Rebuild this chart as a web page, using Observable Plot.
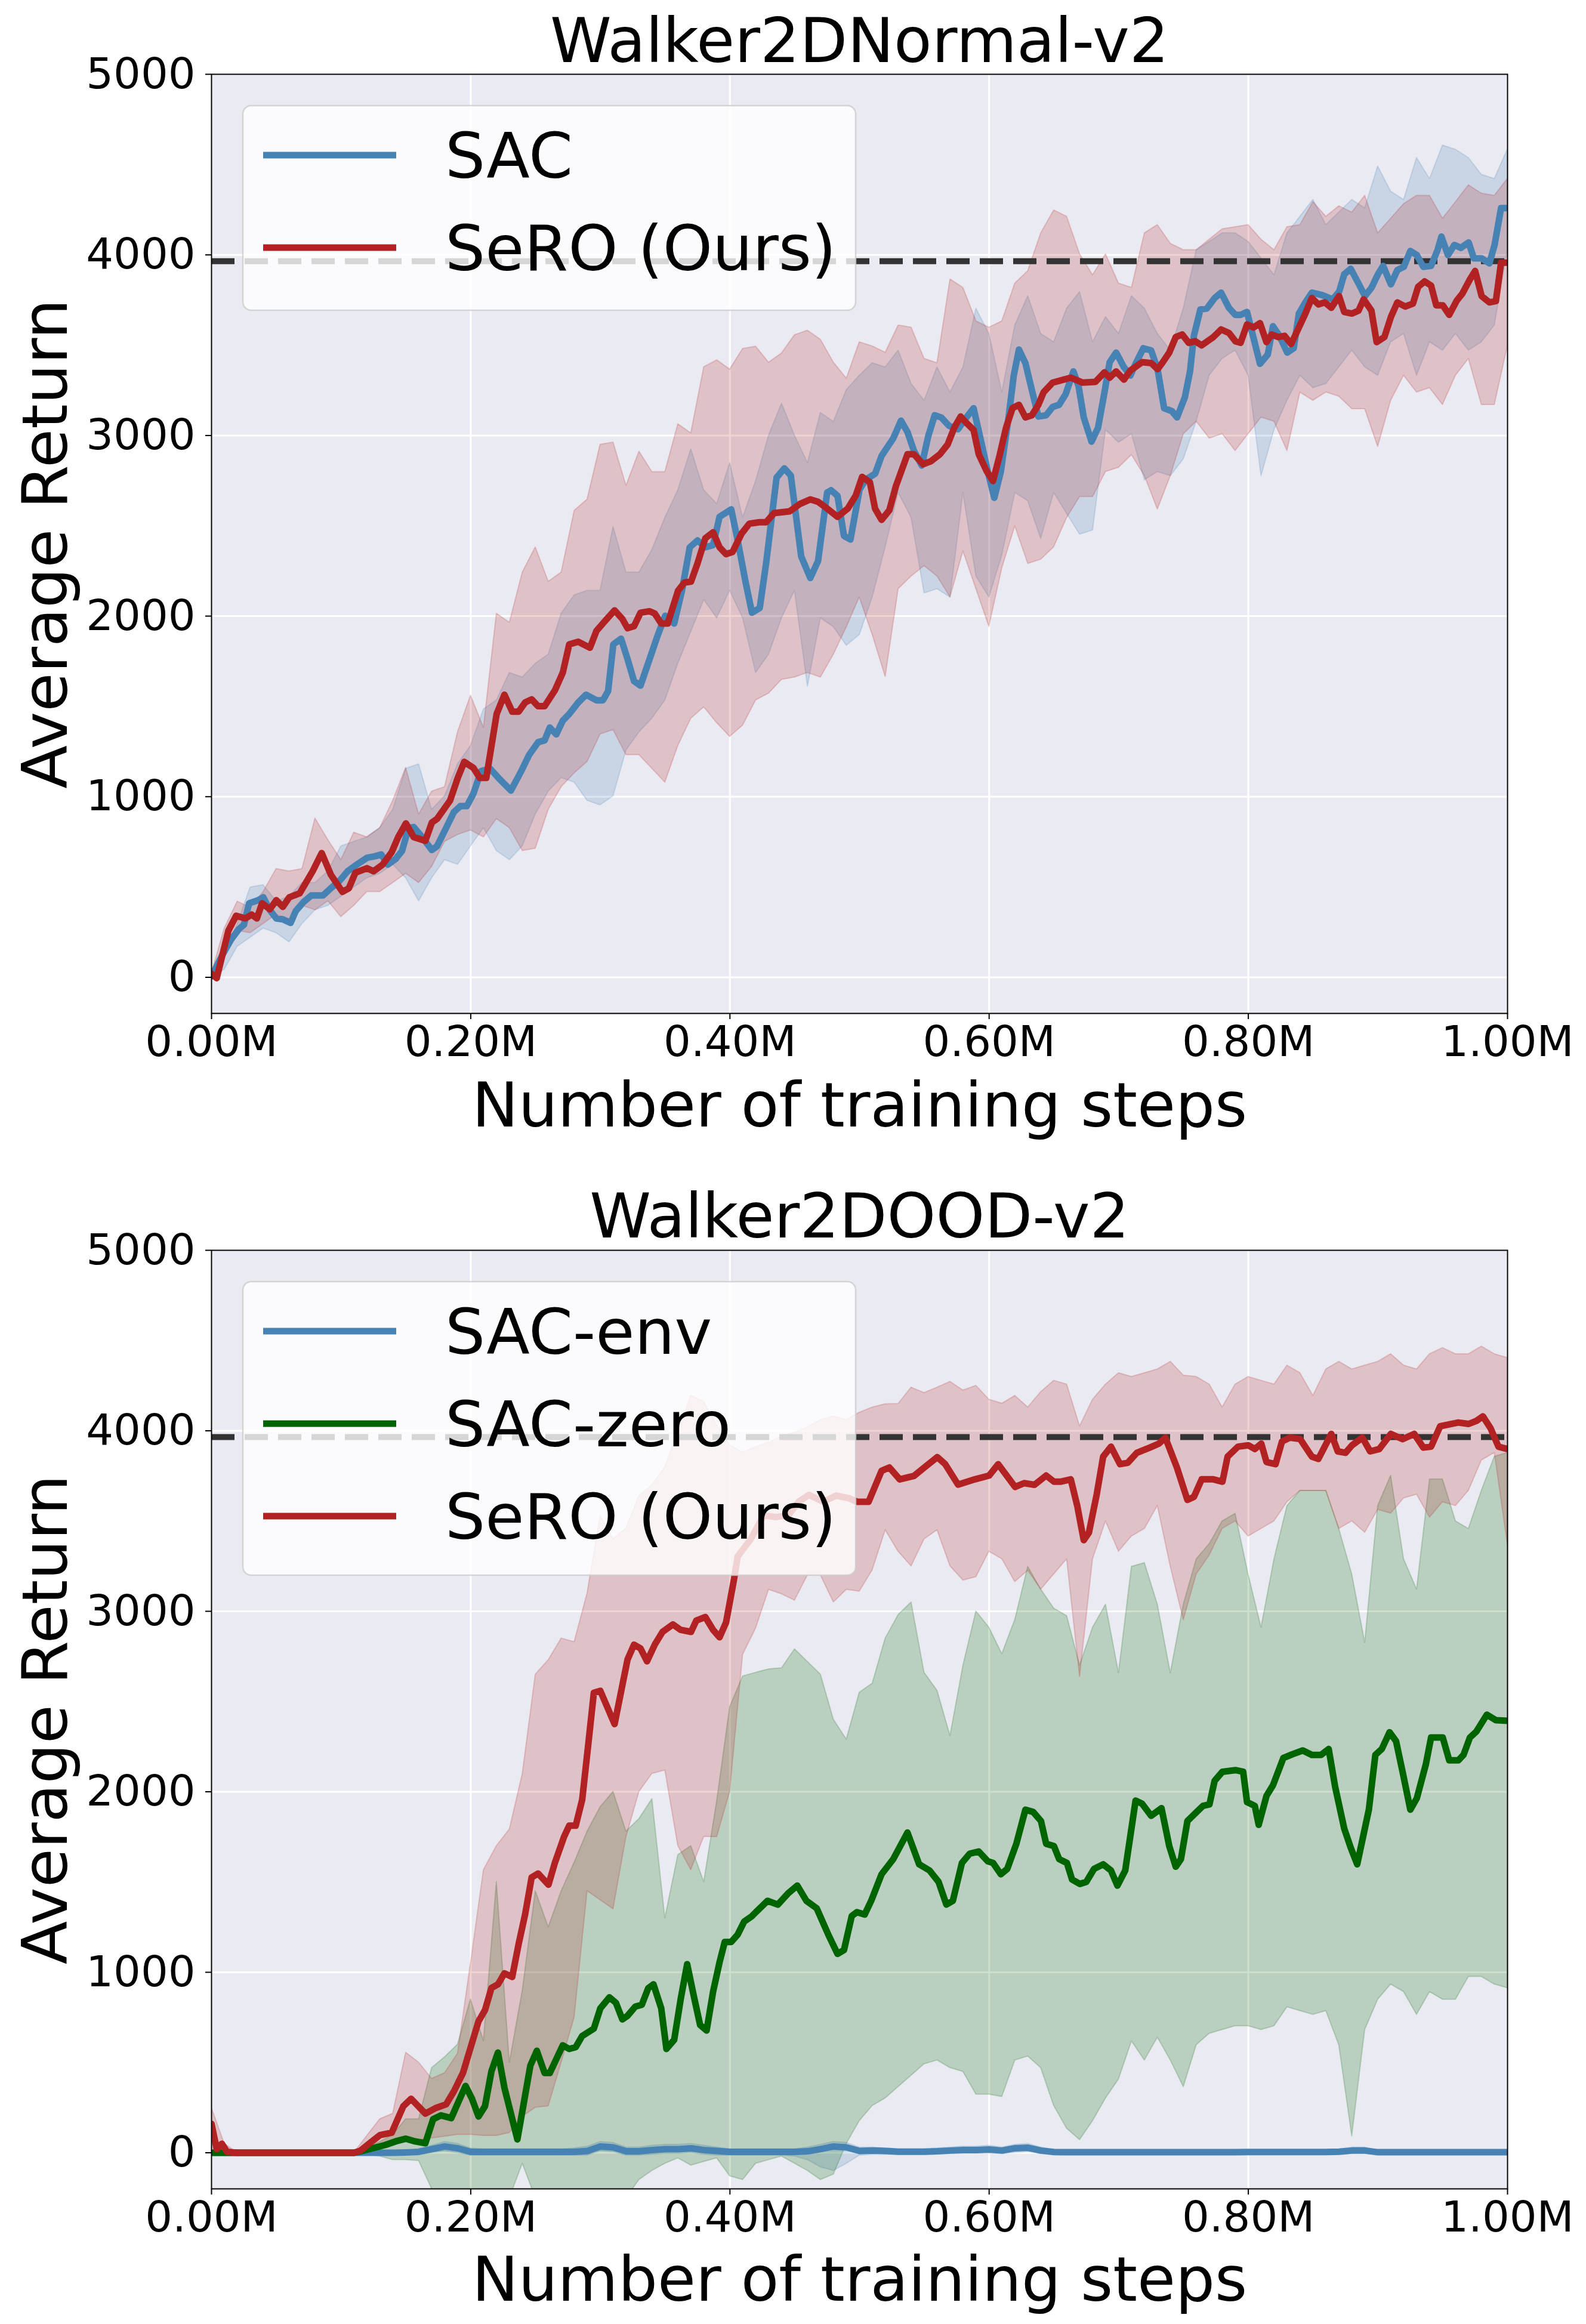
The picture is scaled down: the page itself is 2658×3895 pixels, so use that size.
<!DOCTYPE html>
<html>
<head>
<meta charset="utf-8">
<script src="https://cdn.jsdelivr.net/npm/d3@7"></script>
<script src="https://cdn.jsdelivr.net/npm/@observablehq/plot@0.6"></script>
<style>
  html, body { margin: 0; padding: 0; background: #ffffff; }
  #wrap { width: 2658px; }
  #wrap svg { display: block; }
</style>
</head>
<body>
<div id="wrap"></div>
<script>
// ---------------- DATA ----------------
const titles = ["Walker2DNormal-v2", "Walker2DOOD-v2"];
const xLabel = "Number of training steps";
const yLabel = "Average Return";
const xTicks = [0, 0.2, 0.4, 0.6, 0.8, 1.0];
const yTicks = [0, 1000, 2000, 3000, 4000, 5000];
const referenceReturn = 3965;

const topLegend = ["SAC", "SeRO (Ours)"];
const botLegend = ["SAC-env", "SAC-zero", "SeRO (Ours)"];

// shared x grid (million steps) for the shaded bands
const bandSteps = [0,0.01,0.02,0.03,0.04,0.05,0.06,0.07,0.08,0.09,0.1,0.11,0.12,0.13,0.14,0.15,0.16,0.17,0.18,0.19,0.2,0.21,0.22,0.23,0.24,0.25,0.26,0.27,0.28,0.29,0.3,0.31,0.32,0.33,0.34,0.35,0.36,0.37,0.38,0.39,0.4,0.41,0.42,0.43,0.44,0.45,0.46,0.47,0.48,0.49,0.5,0.51,0.52,0.53,0.54,0.55,0.56,0.57,0.58,0.59,0.6,0.61,0.62,0.63,0.64,0.65,0.66,0.67,0.68,0.69,0.7,0.71,0.72,0.73,0.74,0.75,0.76,0.77,0.78,0.79,0.8,0.81,0.82,0.83,0.84,0.85,0.86,0.87,0.88,0.89,0.9,0.91,0.92,0.93,0.94,0.95,0.96,0.97,0.98,0.99,1.0];

// ---- Walker2DNormal-v2 ----
const topSacSteps = [0,0.008,0.015,0.021,0.025,0.029,0.036,0.04,0.045,0.05,0.055,0.061,0.065,0.071,0.077,0.086,0.092,0.099,0.105,0.111,0.12,0.126,0.131,0.136,0.142,0.147,0.152,0.156,0.162,0.17,0.174,0.181,0.187,0.192,0.197,0.202,0.208,0.215,0.223,0.231,0.239,0.245,0.252,0.257,0.261,0.266,0.271,0.276,0.283,0.289,0.297,0.302,0.306,0.31,0.316,0.321,0.326,0.331,0.338,0.344,0.35,0.357,0.363,0.369,0.375,0.381,0.387,0.392,0.401,0.406,0.412,0.417,0.423,0.428,0.436,0.442,0.447,0.455,0.462,0.468,0.475,0.478,0.483,0.488,0.493,
  0.5,0.505,0.512,0.517,0.526,0.532,0.537,0.542,0.548,0.553,0.558,0.563,0.569,0.576,0.583,0.588,0.594,0.599,0.604,0.609,0.615,0.619,0.623,0.628,0.633,0.638,0.644,0.649,0.654,0.659,0.665,0.669,0.673,0.679,0.684,0.689,0.693,0.698,0.704,0.709,0.713,0.719,0.725,0.73,0.735,0.741,0.745,0.751,0.755,0.758,0.763,0.768,0.774,0.779,0.785,0.79,0.794,0.799,0.804,0.809,0.815,0.819,0.824,0.83,0.835,0.839,0.844,0.849,0.857,0.865,0.87,0.874,0.879,0.885,0.89,0.895,0.9,0.904,0.91,0.915,0.92,0.925,0.93,0.935,0.941,0.946,0.949,0.954,0.959,0.964,0.97,0.974,0.98,0.986,0.99,0.995,1.0];
const topSacMean = [5,119,208,266,291,410,427,443,372,326,321,301,367,417,453,453,493,536,587,619,662,670,680,624,655,700,827,832,781,705,726,827,915,948,948,1016,1142,1155,1092,1034,1142,1231,1302,1312,1383,1345,1421,1458,1522,1565,1534,1534,1585,1843,1875,1762,1640,1615,1762,1888,2002,1959,2141,2381,2419,2381,2393,2550,2591,2419,2191,2019,2045,2297,2767,2818,2778,2330,2211,2305,2684,2697,2666,2444,2424,
  2700,2757,2788,2887,2984,3082,3019,2915,2834,2996,3112,3100,3054,3035,3105,3151,2961,2799,2655,2799,3100,3332,3476,3401,3251,3105,3112,3158,3170,3228,3355,3274,3100,2966,3042,3239,3406,3459,3378,3332,3397,3483,3471,3367,3151,3135,3100,3211,3355,3552,3698,3703,3761,3791,3707,3668,3668,3684,3540,3397,3448,3605,3552,3459,3483,3675,3737,3791,3777,3754,3795,3893,3923,3842,3772,3818,3893,3939,3837,3916,3934,4022,3999,3934,3939,4027,4101,3999,4055,4039,4069,3981,3981,3953,4055,4259,4259];
const topSacHi = [0,144,296,498,511,422,447,523,523,587,726,751,776,827,928,1155,1180,928,1003,1180,1282,1484,1534,1686,1661,1737,1787,2014,2116,2141,2141,2494,2242,2242,2368,2545,2697,2924,2697,2621,2848,2545,2747,3000,3177,3000,2848,3126,3076,3252,3332,3401,3378,3471,3286,3193,3378,3239,3378,3703,3563,3239,3610,3772,3563,3517,3703,3795,3517,3656,3563,3772,3703,3563,3471,3703,4027,4073,4120,4120,4073,3981,3888,4120,4212,4305,4166,4235,4305,4259,4490,4351,4305,4537,4421,4606,4583,4537,4444,4421,4583];
const topSacLo = [0,43,170,220,271,245,195,296,372,397,447,498,549,574,624,549,422,549,650,624,726,827,700,650,726,902,1029,1104,1079,978,953,1003,1256,1357,1433,1534,1737,1913,2090,1989,2141,1989,1686,1787,1989,2141,1610,1989,1939,1837,1896,2104,2382,2683,2544,2127,2150,2104,2683,2220,2104,2336,2683,2637,2428,2683,2567,2452,2475,3031,2961,3008,2753,2799,2776,2869,3077,3332,3425,3471,3332,2776,3031,3193,3332,3263,3286,3378,3471,3378,3332,3517,3563,3332,3517,3471,3563,3471,3517,3610,4027];

const topSeroSteps = [0,0.004,0.013,0.019,0.026,0.031,0.035,0.039,0.045,0.05,0.055,0.06,0.068,0.078,0.085,0.092,0.101,0.106,0.111,0.12,0.125,0.132,0.139,0.144,0.15,0.156,0.165,0.17,0.174,0.184,0.19,0.195,0.202,0.207,0.212,0.22,0.226,0.232,0.237,0.242,0.247,0.252,0.257,0.265,0.271,0.276,0.283,0.292,0.297,0.304,0.311,0.317,0.321,0.326,0.331,0.338,0.342,0.347,0.352,0.36,0.365,0.37,0.375,0.381,0.387,0.392,0.397,0.402,0.409,0.415,0.423,0.428,0.434,0.446,0.454,0.462,0.468,0.475,0.483,0.491,0.497,
  0.502,0.508,0.512,0.517,0.523,0.528,0.537,0.542,0.549,0.555,0.562,0.568,0.573,0.578,0.583,0.588,0.592,0.598,0.603,0.608,0.613,0.618,0.623,0.628,0.633,0.638,0.642,0.649,0.663,0.672,0.682,0.689,0.693,0.698,0.704,0.709,0.718,0.725,0.73,0.734,0.739,0.744,0.749,0.754,0.759,0.764,0.773,0.779,0.785,0.79,0.794,0.799,0.804,0.809,0.814,0.818,0.823,0.828,0.833,0.839,0.844,0.849,0.854,0.859,0.864,0.87,0.874,0.88,0.885,0.889,0.895,0.899,0.905,0.91,0.915,0.921,0.927,0.931,0.936,0.941,0.945,0.95,0.955,0.961,0.965,0.971,0.975,0.98,0.986,0.991,0.995,1.0];
const topSeroMean = [20,-5,258,341,326,347,326,410,377,427,390,443,465,587,688,569,473,493,579,604,587,624,693,776,852,776,756,857,877,978,1104,1193,1160,1104,1104,1458,1565,1471,1471,1522,1539,1501,1501,1590,1686,1843,1858,1825,1918,1976,2032,1984,1933,1944,2019,2027,2014,1959,1959,2141,2186,2191,2292,2431,2464,2381,2343,2355,2457,2512,2520,2520,2570,2580,2621,2646,2633,2596,2550,2596,2666,
  2771,2741,2595,2533,2586,2718,2896,2896,2841,2857,2896,2950,3042,3105,3066,3031,2896,2804,2748,2887,3042,3151,3170,3100,3112,3170,3239,3293,3320,3293,3297,3350,3320,3355,3309,3360,3406,3401,3367,3406,3459,3545,3559,3513,3522,3499,3545,3587,3568,3522,3513,3615,3598,3622,3517,3559,3545,3552,3506,3598,3675,3761,3726,3737,3707,3772,3684,3675,3691,3754,3691,3517,3545,3656,3737,3714,3730,3823,3853,3830,3721,3721,3668,3749,3784,3865,3911,3772,3737,3744,3957,3957];
const topSeroHi = [20,270,420,385,473,600,587,600,880,760,650,802,776,827,978,1160,902,1029,1054,1357,1560,1383,2014,1964,2242,2381,2191,2242,2583,2646,2949,2962,2722,2911,2798,2798,3063,3013,3379,3417,3366,3480,3493,3404,3455,3556,3581,3531,3404,3316,3517,3494,3459,3610,3598,3425,3401,3865,3818,3633,3598,3633,3842,3911,4120,4247,4212,4004,3888,4004,3842,3818,4120,4166,4062,4027,4027,4085,4143,4154,4166,4085,4027,4154,4166,4293,4212,4270,4235,4328,4120,4201,4282,4328,4328,4201,4293,4386,4340,4328,4421];
const topSeroLo = [-5,144,258,245,296,347,321,397,372,422,334,397,473,473,523,574,523,612,751,789,814,776,877,827,700,713,928,1054,1130,1193,1345,1370,1231,1231,1155,1079,1282,1433,1496,1408,1332,1395,1534,1572,1648,1661,1686,1661,1787,1939,2104,1896,1664,2150,2220,2278,2220,2104,2359,2150,1942,2266,2498,2290,2313,2382,2544,2660,2660,2799,2822,2892,2776,2591,2776,3008,3077,2984,3008,2915,3008,3100,3077,2915,3239,3193,3239,3216,3147,3147,2938,3193,3332,3239,3263,3170,3332,3425,3170,3170,3494];

// ---- Walker2DOOD-v2 ----
const botEnvMean = [0,0,0,0,0,0,0,0,0,0,0,0,0,0,0,2,5,20,35,25,5,5,5,5,5,5,5,5,5,10,35,30,8,8,15,20,20,25,15,10,5,5,5,5,5,5,8,20,35,30,10,12,10,6,6,6,8,12,15,15,18,12,25,28,12,4,3,3,3,3,3,3,3,3,3,3,3,3,3,3,4,4,4,4,4,4,4,6,12,12,3,3,3,3,3,3,3,3,3,3,3];
const botEnvHi = [0,0,0,0,0,0,0,0,0,0,0,0,0,0,5,10,20,40,60,50,25,20,20,20,20,20,20,20,25,35,60,55,30,30,40,45,45,50,40,30,20,20,20,20,20,20,30,45,60,55,30,30,25,20,20,20,25,30,35,35,40,30,45,50,30,15,12,12,12,12,12,12,12,12,12,12,12,12,12,12,15,15,15,15,15,15,15,18,30,30,12,12,12,12,12,12,12,12,12,12,12];
const botEnvLo = [0,0,0,0,0,0,0,0,0,0,0,0,0,0,-5,-8,-10,0,10,0,-15,-15,-15,-15,-15,-15,-15,-15,-15,-15,10,5,-15,-15,-10,-5,-5,0,-10,-15,-15,-15,-15,-15,-15,-20,-40,-80,-100,-60,-15,-10,-10,-10,-10,-10,-8,-5,-3,-3,-3,-6,0,5,-6,-6,-6,-6,-6,-6,-6,-6,-6,-6,-6,-6,-6,-6,-6,-6,-6,-6,-6,-6,-6,-6,-6,-6,-3,-3,-6,-6,-6,-6,-6,-6,-6,-6,-6,-6,-6];

const botZeroSteps = [0,0.11,0.115,0.134,0.142,0.15,0.157,0.165,0.171,0.177,0.185,0.189,0.196,0.201,0.206,0.211,0.216,0.221,0.226,0.236,0.241,0.246,0.251,0.257,0.261,0.271,0.276,0.281,0.286,0.295,0.3,0.307,0.312,0.317,0.321,0.327,0.332,0.337,0.341,0.347,0.351,0.357,0.362,0.367,0.372,0.377,0.382,0.387,0.392,0.396,0.401,0.406,0.411,0.417,
  0.42,0.429,0.437,0.445,0.452,0.459,0.467,0.476,0.483,0.488,0.494,0.498,0.504,0.509,0.517,0.526,0.537,0.546,0.554,0.561,0.567,0.572,0.579,0.585,0.592,0.599,0.603,0.609,0.614,0.621,0.628,0.634,0.64,0.644,0.65,0.654,0.66,0.664,0.67,0.675,0.681,0.688,0.694,0.699,0.705,0.713,0.718,0.725,0.733,0.739,0.744,0.748,0.753,0.759,0.765,0.77,0.774,0.78,0.79,0.796,0.799,0.805,0.808,0.814,0.819,0.827,0.834,0.842,0.849,0.856,0.862,0.867,0.874,0.879,0.884,0.888,0.893,0.898,0.903,0.909,0.914,0.919,0.925,0.93,0.937,0.941,0.95,0.955,0.962,0.966,0.971,0.976,0.984,0.991,1.0];
const botZeroMean = [0,0,8,43,63,78,63,53,186,207,192,258,370,299,201,258,452,555,360,74,278,483,565,442,442,595,575,585,647,688,800,861,831,739,759,810,820,912,933,800,575,626,851,1045,872,708,677,892,1056,1168,1168,1209,1281,1311,
  1333,1396,1375,1438,1480,1396,1354,1207,1102,1123,1312,1333,1320,1396,1543,1627,1774,1598,1564,1501,1375,1396,1606,1657,1669,1615,1606,1543,1573,1712,1901,1888,1838,1712,1699,1627,1606,1514,1489,1501,1573,1598,1564,1480,1564,1951,1934,1867,1909,1699,1585,1627,1838,1880,1922,1930,2061,2111,2120,2111,1943,1922,1817,1977,2036,2187,2208,2229,2204,2204,2237,2027,1796,1690,1598,1733,1901,2204,2237,2330,2280,2111,1901,1964,2153,2301,2301,2174,2174,2204,2301,2334,2427,2397,2393];
const botZeroHi = [0,0,0,0,0,0,0,0,0,0,0,0,30,60,100,186,186,470,530,600,850,620,1500,500,900,1450,1250,1450,1608,1780,1915,2000,1780,1850,1960,1300,1650,1700,1500,1950,2470,2640,2660,2679,2685,2790,2720,2650,2400,2290,2550,2600,2850,2980,3050,2660,2560,2310,2700,3000,2910,2763,2953,3247,3121,3016,2974,2700,2910,3037,2658,3247,3268,3037,2658,3037,3289,3373,3499,3541,3205,2910,3289,3584,3668,3668,3668,3457,3205,2826,3584,3752,3289,3121,3731,3731,3499,3457,3668,3857,3878];
const botZeroLo = [0,0,0,0,0,0,0,0,0,0,0,0,-10,-20,-40,-40,-45,-200,-250,-250,-250,-250,-250,-250,-60,-250,-250,-250,-250,-250,-250,-250,-250,-150,-100,-60,-30,-70,-50,-30,-130,-150,-60,-40,-20,-60,-100,-150,-120,50,176,260,302,365,428,491,512,470,449,323,323,310,512,534,470,260,134,71,176,302,407,618,512,639,512,365,597,660,681,702,702,681,702,807,786,765,786,597,92,681,849,933,891,765,891,849,849,975,975,933,912];

const botSeroSteps = [0,0.004,0.008,0.012,0.02,0.11,0.115,0.122,0.13,0.139,0.148,0.154,0.165,0.173,0.181,0.187,0.194,0.2,0.206,0.211,0.216,0.221,0.226,0.232,0.237,0.242,0.247,0.252,0.26,0.265,0.272,0.276,0.281,0.286,0.291,0.295,0.3,0.311,0.317,0.321,0.326,0.331,0.336,0.342,0.348,0.356,0.362,0.37,0.374,0.381,0.387,0.392,0.397,0.403,0.406,0.416,0.426,0.435,0.445,0.453,0.461,0.472,0.482,0.492,0.498,0.507,0.517,0.523,0.531,0.542,0.55,0.56,0.566,0.576,0.589,
  0.6,0.607,0.62,0.627,0.635,0.644,0.65,0.655,0.663,0.668,0.673,0.677,0.683,0.688,0.694,0.701,0.707,0.714,0.724,0.731,0.736,0.745,0.753,0.758,0.764,0.773,0.78,0.784,0.792,0.8,0.805,0.81,0.814,0.821,0.826,0.832,0.84,0.849,0.854,0.864,0.869,0.875,0.88,0.888,0.894,0.901,0.91,0.919,0.928,0.935,0.941,0.948,0.962,0.97,0.976,0.981,0.987,0.993,1.0];
const botSeroMean = [160,20,50,5,0,0,12,53,98,111,258,299,217,248,268,340,442,585,728,790,913,933,994,974,1158,1322,1526,1547,1485,1608,1751,1812,1812,1956,2283,2549,2559,2375,2590,2733,2815,2794,2723,2815,2886,2927,2897,2886,2948,2968,2897,2856,2938,3171,3304,3399,3531,3522,3531,3607,3645,3607,3641,3626,3607,3607,3778,3797,3731,3750,3797,3854,3816,3702,3731,
  3752,3815,3689,3710,3701,3752,3718,3718,3731,3584,3394,3436,3647,3857,3912,3815,3823,3878,3907,3929,3962,3794,3617,3634,3731,3731,3718,3857,3912,3920,3899,3929,3827,3815,3941,3962,3954,3857,3844,3983,3886,3878,3920,3962,3886,3899,3983,3954,3983,3907,3912,4025,4046,4038,4055,4080,4013,3912,3899];
const botSeroHi = [250,50,0,0,0,0,0,0,0,0,0,0,94,186,217,555,500,410,442,550,1050,1567,1700,1792,2100,2650,2730,2850,2830,3100,3530,3400,3460,3640,3700,3800,4000,4195,4160,4030,3920,3880,3910,3935,3968,3990,4020,4060,4080,4060,4101,4130,4148,4150,4240,4210,4240,4272,4224,4250,4173,4151,4194,4130,4215,4278,4257,4025,4173,4257,4320,4299,4320,4341,4383,4307,4299,4257,4130,4257,4299,4278,4257,4362,4320,4194,4341,4383,4341,4362,4383,4425,4362,4341,4425,4459,4425,4425,4467,4425,4404];
const botSeroLo = [0,0,0,0,0,0,0,0,0,0,0,0,0,30,50,60,70,80,90,100,100,94,94,110,200,250,258,500,750,1450,1400,1350,1750,2000,2100,2119,1700,1567,1751,1750,2000,2760,2905,3120,3095,3060,3200,3200,3050,3120,3110,3228,3450,3330,3250,3399,3450,3250,3171,3190,3331,3289,3163,3226,3121,3205,3289,2637,3289,3499,3331,3415,3457,3584,3247,2952,3205,3310,3457,3499,3415,3457,3499,3605,3668,3668,3668,3457,3499,3436,3563,3542,3626,3647,3520,3605,3584,3668,3836,3878,3373];

// ---------------- STYLE ----------------
const FONT = "DejaVu Sans";
const BLUE = "#4682b4", RED = "#b22222", GREEN = "#006400";
const W = 2658, ML = 354, MR = 132, MT = 124;
const LINE_W = 11;

const rowsOf = (steps, vals) => steps.map((t, i) => ({t, v: vals[i]}));
const bandOf = (lo, hi) => bandSteps.map((t, i) => ({t, lo: lo[i], hi: hi[i]}));

function legendMark(items, boxH) {
  return () => {
    const g = d3.create("svg:g");
    const x0 = ML + 53, y0 = MT + 53;
    g.append("rect")
      .attr("x", x0).attr("y", y0).attr("width", 1027).attr("height", boxH)
      .attr("rx", 14).attr("ry", 14)
      .attr("fill", "#ffffff").attr("fill-opacity", 0.8)
      .attr("stroke", "#cccccc").attr("stroke-opacity", 0.8).attr("stroke-width", 2.5);
    items.forEach((it, i) => {
      const cy = y0 + 83 + i * 155;
      g.append("line")
        .attr("x1", x0 + 34).attr("x2", x0 + 257).attr("y1", cy).attr("y2", cy)
        .attr("stroke", it.color).attr("stroke-width", LINE_W);
      g.append("text")
        .attr("x", x0 + 339).attr("y", cy).attr("dy", "0.36em")
        .attr("text-anchor", "start")
        .attr("font-family", FONT).attr("font-size", 106).attr("fill", "black")
        .text(it.label);
    });
    return g.node();
  };
}

function makeChart({title, titleDy, bands, lines, legend, boxH, height, marginBottom, xLabelDy}) {
  return Plot.plot({
    width: W, height,
    marginLeft: ML, marginRight: MR, marginTop: MT, marginBottom,
    x: {domain: [0, 1], axis: null},
    y: {domain: [-200, 5000], axis: null},
    style: {fontFamily: FONT, fontSize: "72px", color: "black", background: "white", overflow: "visible"},
    marks: [
      Plot.frame({fill: "#eaeaf2"}),
      Plot.gridX(xTicks, {stroke: "white", strokeOpacity: 1, strokeWidth: 3}),
      Plot.gridY(yTicks, {stroke: "white", strokeOpacity: 1, strokeWidth: 3}),
      ...bands.map(b => Plot.areaY(b.data, {
        x: "t", y1: "lo", y2: "hi", fill: b.color, fillOpacity: 0.2,
        stroke: b.color, strokeOpacity: 0.2, strokeWidth: 2, clip: true
      })),
      Plot.ruleY([referenceReturn], {stroke: "#333333", strokeWidth: 10, strokeDasharray: "39,17"}),
      ...lines.map(l => Plot.line(l.data, {x: "t", y: "v", stroke: l.color, strokeWidth: LINE_W, clip: true})),
      Plot.frame({stroke: "black", strokeWidth: 2}),
      Plot.axisX(xTicks, {anchor: "bottom", tickFormat: d => d.toFixed(2) + "M", tickSize: 10, tickPadding: 10, strokeWidth: 2, fontSize: 72, label: null}),
      Plot.axisY(yTicks, {anchor: "left", tickFormat: d => String(d), tickSize: 10, tickPadding: 17, strokeWidth: 2, fontSize: 72, label: null}),
      Plot.text([title], {text: d => d, frameAnchor: "top", dy: -titleDy, lineAnchor: "bottom", textAnchor: "middle", fontSize: 104, fill: "black"}),
      Plot.text([xLabel], {text: d => d, frameAnchor: "bottom", dy: xLabelDy, lineAnchor: "bottom", textAnchor: "middle", fontSize: 104, fill: "black"}),
      Plot.text([yLabel], {text: d => d, frameAnchor: "left", dx: -243, rotate: -90, lineAnchor: "bottom", textAnchor: "middle", fontSize: 106, fill: "black"}),
      legendMark(legend, boxH)
    ]
  });
}

const wrap = document.getElementById("wrap");

wrap.appendChild(makeChart({
  title: titles[0], titleDy: 21, height: 1971, marginBottom: 273, xLabelDy: 189, boxH: 343,
  bands: [
    {data: bandOf(topSacLo, topSacHi), color: BLUE},
    {data: bandOf(topSeroLo, topSeroHi), color: RED}
  ],
  lines: [
    {data: rowsOf(topSacSteps, topSacMean), color: BLUE},
    {data: rowsOf(topSeroSteps, topSeroMean), color: RED}
  ],
  legend: [{label: topLegend[0], color: BLUE}, {label: topLegend[1], color: RED}]
}));

wrap.appendChild(makeChart({
  title: titles[1], titleDy: 22, height: 1924, marginBottom: 227, xLabelDy: 187, boxH: 492,
  bands: [
    {data: bandOf(botEnvLo, botEnvHi), color: BLUE},
    {data: bandOf(botZeroLo, botZeroHi), color: GREEN},
    {data: bandOf(botSeroLo, botSeroHi), color: RED}
  ],
  lines: [
    {data: rowsOf(bandSteps, botEnvMean), color: BLUE},
    {data: rowsOf(botZeroSteps, botZeroMean), color: GREEN},
    {data: rowsOf(botSeroSteps, botSeroMean), color: RED}
  ],
  legend: [{label: botLegend[0], color: BLUE}, {label: botLegend[1], color: GREEN}, {label: botLegend[2], color: RED}]
}));
</script>
</body>
</html>
